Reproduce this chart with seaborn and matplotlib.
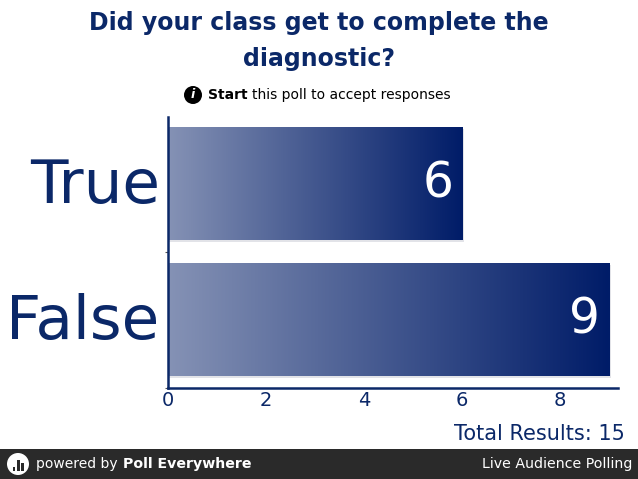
import numpy as np
import pandas as pd
import matplotlib
matplotlib.use("Agg")
import matplotlib.pyplot as plt
import seaborn as sns
from matplotlib.colors import LinearSegmentedColormap
from matplotlib.patches import Rectangle, Circle
from matplotlib.transforms import ScaledTranslation

answers = ["True", "False"]
counts = [6, 9]
x_ticks = [0, 2, 4, 6, 8]
title = "Did your class get to complete the\ndiagnostic?"
total = sum(counts)

NAVY = "#0b2868"
W, H = 638, 479

sns.set_theme(style="white")
plt.rcParams["font.family"] = ["DejaVu Sans"]

fig = plt.figure(figsize=(W / 100, H / 100), dpi=100)
ax = fig.add_axes([168 / W, 1 - 388 / H, 450 / W, 271 / H])

df = pd.DataFrame({"answer": answers, "count": counts})
sns.barplot(data=df, x="count", y="answer", orient="h", width=0.83,
            color=NAVY, ax=ax)

# gradient fill clipped to each bar, plus a soft shadow
cmap = LinearSegmentedColormap.from_list("poll", ["#8592b5", "#001c68"])
grad = np.linspace(0, 1, 256).reshape(1, -1)
for patch, v in zip(ax.patches, counts):
    x0, y0 = patch.get_x(), patch.get_y()
    w, h = patch.get_width(), patch.get_height()
    ax.add_patch(Rectangle((x0 + 0.03, y0 + 0.015), w, h,
                           facecolor="#e2e3e8", edgecolor="none", zorder=1))
    patch.set_facecolor("none")
    patch.set_edgecolor("none")
    patch.set_zorder(2)
    im = ax.imshow(grad, extent=[x0, x0 + w, y0 + h, y0], aspect="auto",
                   cmap=cmap, zorder=2)
    im.set_clip_path(patch)
    ax.text(x0 + w - 0.18, y0 + h / 2, str(v), ha="right", va="center",
            color="white", fontsize=35, zorder=3)

ax.set_xlim(0, 9.18)
ax.set_ylim(1.5, -0.49)
ax.set_xticks(x_ticks)
ax.set_xlabel("")
ax.set_ylabel("")
ax.tick_params(axis="x", labelsize=14, labelcolor=NAVY, length=0, pad=2)
ax.tick_params(axis="y", labelsize=44, labelcolor=NAVY, length=0, pad=6)
shift = ScaledTranslation(0, -3 / 100, fig.dpi_scale_trans)
for lab in ax.get_yticklabels():
    lab.set_verticalalignment("center")
    lab.set_transform(lab.get_transform() + shift)
ax.set_yticks([0.5, 1.5], minor=True)
ax.tick_params(axis="y", which="minor", left=True, length=2, width=0.8,
               color="#555555")
for side in ["top", "right"]:
    ax.spines[side].set_visible(False)
for side in ["left", "bottom"]:
    ax.spines[side].set_color(NAVY)
    ax.spines[side].set_linewidth(1.8)

# title and subtitle
fig.text(0.5, 1 - 41 / H, title, ha="center", va="center", fontsize=17,
         fontweight="bold", color=NAVY, linespacing=1.6)

sub_y = 1 - 95 / H
fig.text(193 / W, sub_y, "i", ha="center", va="center", fontsize=9,
         fontweight="bold", style="italic", color="white",
         bbox=dict(boxstyle="circle,pad=0.2", facecolor="black",
                   edgecolor="none"))
renderer = fig.canvas.get_renderer()
t1 = fig.text(208 / W, sub_y, "Start", ha="left", va="center", fontsize=10,
              fontweight="bold", color="black")
bb = t1.get_window_extent(renderer)
fig.text((bb.x1 + 4) / W, sub_y, "this poll to accept responses", ha="left",
         va="center", fontsize=10, color="black")

fig.text(625 / W, 1 - 434 / H, f"Total Results: {total}", ha="right",
         va="center", fontsize=15, color=NAVY)

# footer band
fig.patches.append(Rectangle((0, 0), 1, 30 / H, transform=fig.transFigure,
                             facecolor="#2a2a2a", edgecolor="none",
                             zorder=-5))
ax_logo = fig.add_axes([7 / W, (H - 475) / H, 22 / W, 22 / H], zorder=5)
ax_logo.set_xlim(-1, 1)
ax_logo.set_ylim(-1, 1)
ax_logo.axis("off")
ax_logo.add_patch(Circle((0, 0), 1, facecolor="white", edgecolor="none"))
for bx, bh in zip([-0.5, -0.12, 0.26], [0.35, 0.95, 0.65]):
    ax_logo.add_patch(Rectangle((bx, -0.6), 0.26, bh, facecolor="#2a2a2a",
                                edgecolor="none"))

foot_y = 1 - 464 / H
t2 = fig.text(36 / W, foot_y, "powered by", ha="left", va="center",
              fontsize=10, color="white")
bb = t2.get_window_extent(renderer)
fig.text((bb.x1 + 5) / W, foot_y, "Poll Everywhere", ha="left", va="center",
         fontsize=10.2, fontweight="bold", color="white")
fig.text(632 / W, foot_y, "Live Audience Polling", ha="right", va="center",
         fontsize=10.2, color="white")

fig.savefig("out.png", dpi=100)
